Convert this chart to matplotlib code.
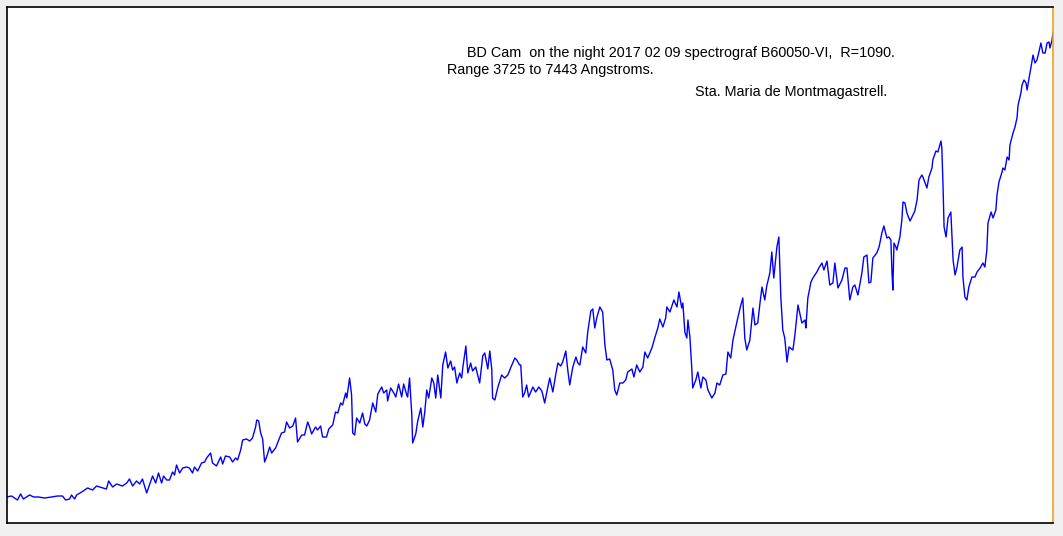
import matplotlib
matplotlib.use("Agg")
import matplotlib.pyplot as plt

# BD Cam spectrum, wavelength in Angstrom, relative flux
wavelength = [
    3725, 3743, 3764, 3775, 3785, 3807, 3821, 3839, 3860, 3885, 3906, 3924,
    3935, 3949, 3956, 3967, 3974, 3992, 4013, 4031, 4045, 4056, 4080, 4088,
    4102, 4116, 4137, 4152, 4162, 4173, 4187, 4198, 4208, 4223, 4233, 4244,
    4255, 4265, 4276, 4283, 4294, 4304,
    4315, 4322, 4329, 4340, 4351, 4365, 4375, 4386, 4393, 4404, 4418, 4429,
    4436, 4450, 4457, 4471, 4486, 4493, 4503, 4518, 4528, 4539, 4546, 4557,
    4564, 4578, 4589, 4599, 4610, 4614, 4621, 4628, 4635, 4642, 4649, 4660,
    4667, 4681, 4692, 4702, 4713, 4720, 4731, 4742, 4752, 4759, 4774, 4784,
    4795, 4802, 4809, 4823, 4830, 4841, 4848, 4862, 4870, 4884, 4894, 4902,
    4912, 4919, 4930, 4934,
    4944, 4951, 4955, 4962, 4969, 4980, 4990, 4998, 5005, 5015, 5026, 5037,
    5044, 5058, 5065, 5076, 5079, 5090, 5101, 5108, 5118, 5129, 5136, 5147,
    5150, 5157, 5165, 5168, 5179, 5186, 5197, 5204, 5211, 5218, 5225, 5236,
    5243, 5250, 5257, 5268, 5275, 5285, 5293, 5303, 5310, 5317, 5325, 5335,
    5342, 5346, 5357, 5364, 5374, 5381, 5392, 5399, 5406, 5417, 5424, 5435,
    5442, 5449, 5452, 5460, 5470, 5484, 5495, 5506, 5516, 5531, 5538, 5548,
    5552, 5559, 5566, 5573, 5580, 5595, 5605, 5616, 5627, 5637, 5644, 5655,
    5666, 5676, 5684, 5694, 5701, 5712, 5719, 5726, 5737, 5748, 5755, 5762,
    5772, 5783, 5790, 5801, 5808, 5815, 5822, 5833, 5843, 5851, 5858, 5868,
    5879, 5886, 5893, 5904, 5915, 5925, 5932, 5947, 5954, 5964, 5975, 5986,
    5993, 6003, 6018, 6028, 6039, 6046, 6057, 6067, 6071, 6082, 6096, 6107,
    6114, 6124, 6128, 6135, 6142, 6146, 6153,
    6160, 6163, 6174, 6181, 6192, 6199, 6210, 6217, 6231, 6242, 6249, 6259,
    6270, 6281, 6288, 6298, 6306, 6316, 6323, 6334, 6341, 6348, 6355, 6366,
    6377, 6384, 6394, 6402, 6409, 6419, 6426, 6437, 6444, 6451, 6462, 6469,
    6476, 6483, 6490, 6498, 6505, 6519, 6526, 6537, 6551, 6562, 6565, 6572,
    6583, 6590, 6604, 6611, 6622, 6629, 6640, 6650, 6661, 6668, 6679, 6693,
    6704, 6711, 6721, 6732, 6739, 6750, 6764, 6771, 6782, 6789, 6796, 6803,
    6817, 6825,
    6828, 6835, 6842, 6853, 6860, 6867, 6871, 6874, 6878, 6885, 6888, 6899,
    6906, 6910, 6917, 6924, 6935, 6942, 6952, 6960, 6967, 6977, 6981, 6995,
    7002, 7013, 7016, 7027, 7034, 7045, 7048, 7052, 7056, 7063, 7070, 7080,
    7084, 7088, 7095, 7102, 7112, 7120, 7123, 7130, 7137, 7144, 7155, 7166,
    7173, 7184, 7194, 7201, 7208, 7212, 7223, 7230, 7240, 7244, 7251, 7262,
    7265, 7272, 7280, 7287, 7290, 7301, 7308, 7315, 7319, 7329, 7333, 7340,
    7347, 7351, 7358, 7365, 7372, 7379, 7386, 7393, 7400, 7407, 7415, 7422,
    7429, 7432, 7439, 7443,
]

flux = [
    0.26, 0.27, 0.23, 0.29, 0.24, 0.28, 0.26, 0.26, 0.25, 0.26, 0.27, 0.27,
    0.23, 0.24, 0.28, 0.24, 0.28, 0.31, 0.35, 0.33, 0.37, 0.36, 0.34, 0.42,
    0.36, 0.39, 0.37, 0.40, 0.44, 0.37, 0.42, 0.39, 0.44, 0.30, 0.38, 0.47,
    0.40, 0.50, 0.40, 0.47, 0.43, 0.43,
    0.51, 0.48, 0.58, 0.50, 0.55, 0.56, 0.55, 0.50, 0.56, 0.52, 0.60, 0.61,
    0.65, 0.70, 0.60, 0.57, 0.66, 0.59, 0.67, 0.66, 0.61, 0.65, 0.63, 0.73,
    0.83, 0.84, 0.82, 0.85, 0.96, 1.03, 1.02, 0.90, 0.84, 0.61, 0.66, 0.76,
    0.70, 0.75, 0.83, 0.90, 0.91, 1.01, 0.95, 0.97, 1.05, 0.81, 0.88, 0.88,
    1.01, 0.96, 0.89, 0.96, 0.93, 0.97, 0.86, 0.86, 0.94, 0.98, 1.11, 1.10,
    1.20, 1.18, 1.30, 1.25,
    1.45, 1.28, 0.90, 0.88, 1.05, 1.00, 1.10, 0.99, 0.97, 1.03, 1.20, 1.11,
    1.29, 1.36, 1.30, 1.33, 1.22, 1.35, 1.30, 1.26, 1.39, 1.26, 1.39, 1.28,
    1.26, 1.45, 1.08, 0.80, 0.89, 1.02, 1.15, 0.96, 1.11, 1.33, 1.25, 1.45,
    1.40, 1.25, 1.48, 1.25, 1.58, 1.71, 1.55, 1.62, 1.53, 1.56, 1.40, 1.50,
    1.45, 1.55, 1.77, 1.50, 1.60, 1.52, 1.56, 1.48, 1.40, 1.67, 1.70, 1.54,
    1.72, 1.54, 1.25, 1.23, 1.35, 1.48, 1.45, 1.48, 1.55, 1.65, 1.63, 1.58,
    1.58, 1.26, 1.30, 1.38, 1.26, 1.36, 1.31, 1.36, 1.32, 1.20, 1.30, 1.45,
    1.31, 1.48, 1.60, 1.57, 1.61, 1.72, 1.53, 1.38, 1.56, 1.66, 1.60, 1.58,
    1.76, 1.70, 1.91, 2.12, 2.14, 1.95, 2.05, 2.16, 2.11, 1.78, 1.63, 1.64,
    1.53, 1.33, 1.28, 1.40, 1.40, 1.43, 1.51, 1.54, 1.46, 1.58, 1.51, 1.56,
    1.71, 1.65, 1.75, 1.85, 1.95, 2.04, 1.96, 2.05, 2.16, 2.11, 2.23, 2.16,
    2.31, 2.15, 2.20, 1.91, 1.85, 2.03, 1.86,
    1.53, 1.35, 1.43, 1.51, 1.35, 1.46, 1.43, 1.33, 1.25, 1.30, 1.40, 1.38,
    1.48, 1.49, 1.71, 1.65, 1.83, 1.96, 2.05, 2.18, 2.25, 1.85, 1.73, 1.83,
    2.15, 1.98, 2.00, 2.20, 2.36, 2.23, 2.37, 2.50, 2.71, 2.45, 2.76, 2.86,
    2.26, 1.93, 1.85, 1.61, 1.76, 1.73, 1.88, 2.18, 2.00, 2.03, 1.95, 2.25,
    2.41, 2.45, 2.51, 2.55, 2.60, 2.53, 2.62, 2.38, 2.40, 2.60, 2.35, 2.43,
    2.55, 2.55, 2.23, 2.36, 2.38, 2.28, 2.50, 2.66, 2.68, 2.40, 2.41, 2.65,
    2.70, 2.76,
    2.80, 2.90, 2.97, 2.85, 2.86, 2.83, 2.50, 2.33, 2.80, 2.76, 2.73, 2.86,
    3.03, 3.21, 3.20, 3.10, 3.02, 3.06, 3.12, 3.23, 3.43, 3.48, 3.46, 3.35,
    3.46, 3.55, 3.63, 3.72, 3.71, 3.82, 3.75, 3.40, 2.96, 2.86, 3.05, 3.11,
    2.86, 2.63, 2.48, 2.56, 2.73, 2.76, 2.46, 2.26, 2.23, 2.36, 2.46, 2.46,
    2.51, 2.55, 2.60, 2.56, 2.73, 3.00, 3.11, 3.05, 3.13, 3.28, 3.41, 3.51,
    3.55, 3.53, 3.66, 3.63, 3.78, 3.90, 3.96, 4.05, 4.18, 4.30, 4.38, 4.43,
    4.40, 4.33, 4.45, 4.56, 4.68, 4.60, 4.63, 4.71, 4.80, 4.70, 4.70, 4.80,
    4.81, 4.75, 4.82, 4.91,
]

title_lines = [
    "BD Cam  on the night 2017 02 09 spectrograf B60050-VI,  R=1090.",
    "Range 3725 to 7443 Angstroms.",
    "Sta. Maria de Montmagastrell.",
]

W, H = 1063, 536
fig = plt.figure(figsize=(W / 100, H / 100), dpi=100, facecolor="#f0f0f0")
ax = fig.add_axes([6.5 / W, 13 / H, 1046.5 / W, 516.5 / H])
ax.set_facecolor("white")

ax.plot(wavelength, flux, color="#0000ff", linewidth=1.0)

ax.set_xlim(3725, 7443)
ax.set_ylim(0, 5.165)
ax.set_xticks([])
ax.set_yticks([])
for side in ["left", "top", "bottom"]:
    ax.spines[side].set_color("black")
    ax.spines[side].set_linewidth(1.2)
ax.spines["right"].set_color("#f0a020")
ax.spines["right"].set_linewidth(1.2)

# annotation text, positioned in figure pixels (baseline)
text_pos = [(467, 57), (447, 74), (695, 96)]
for (px, py), txt in zip(text_pos, title_lines):
    fig.text(px / W, 1 - py / H, txt, ha="left", va="baseline",
             fontsize=10.4, family="Liberation Sans", color="black")

fig.savefig("out.png", dpi=100, facecolor=fig.get_facecolor())
